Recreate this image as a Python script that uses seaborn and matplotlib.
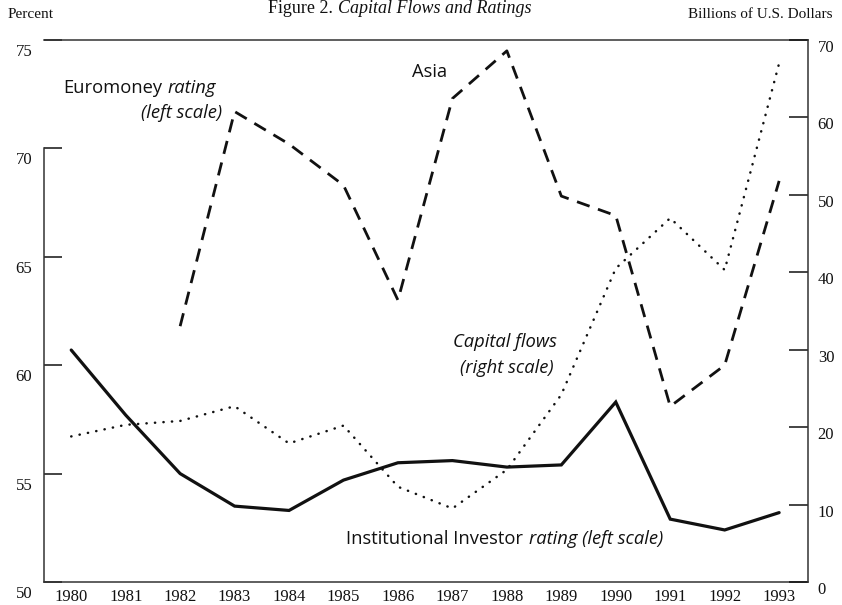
import numpy as np
import pandas as pd
import matplotlib
matplotlib.use("Agg")
import matplotlib.pyplot as plt
from matplotlib.transforms import ScaledTranslation
import seaborn as sns

# values
years = list(range(1980, 1994))
inst_investor = [60.7, 57.7, 55.0, 53.5, 53.3, 54.7, 55.5, 55.6, 55.3, 55.4,
                 58.3, 52.9, 52.4, 53.2]          # percent, left scale
capital_flows = [18.8, 20.3, 20.8, 22.7, 17.9, 20.2, 12.3, 9.5, 14.5, 24.2,
                 40.5, 47.0, 40.3, 67.0]          # billions USD, right scale
euro_years = list(range(1982, 1994))
euromoney = [61.8, 71.7, 70.2, 68.3, 63.0, 72.3, 74.5, 67.8, 66.9, 58.1,
             60.0, 68.5]                          # percent, left scale

left_ticks = [50, 55, 60, 65, 70, 75]
right_ticks = [0, 10, 20, 30, 40, 50, 60, 70]

df_ii = pd.DataFrame({"year": years, "value": inst_investor})
df_cf = pd.DataFrame({"year": years, "value": capital_flows})
df_em = pd.DataFrame({"year": euro_years, "value": euromoney})

sns.set_style("white")
plt.rcParams["font.family"] = ["Liberation Serif", "DejaVu Serif"]
ANNOT = ["Open Sans", "DejaVu Sans"]
INK = "#111111"
FS = 13.2

W, H = 842, 605
fig = plt.figure(figsize=(W / 100, H / 100), dpi=100)
x0, x1, ytop, ybot = 44, 808, 40, 582
ax = fig.add_axes([x0 / W, 1 - ybot / H, (x1 - x0) / W, (ybot - ytop) / H])
ax2 = ax.twinx()

sns.lineplot(data=df_ii, x="year", y="value", ax=ax, color=INK, linewidth=2.3,
             solid_joinstyle="miter")
sns.lineplot(data=df_em, x="year", y="value", ax=ax, color=INK, linewidth=2.0,
             linestyle=(0, (4.8, 3.2)))
sns.lineplot(data=df_cf, x="year", y="value", ax=ax2, color=INK, linewidth=1.8,
             linestyle=(0, (0.1, 3.3)), dash_capstyle="round")

ax.set_xlim(1979.5, 1993.53)
ax.set_ylim(50, 75)
ax2.set_ylim(0, 70)
ax.set_xlabel("")
ax.set_ylabel("")
ax2.set_ylabel("")

ax.set_xticks(years)
ax.set_xticklabels([str(y) for y in years])
ax.set_xticks([y + 0.5 for y in years[:-1]], minor=True)
ax.tick_params(axis="x", which="major", length=0, pad=5, labelsize=12, colors=INK)
ax.tick_params(axis="x", which="minor", direction="in", length=8.5, width=1.1, color=INK)

ax.set_yticks(left_ticks)
ax.tick_params(axis="y", which="major", direction="in", length=13, width=1.1,
               pad=8.5, labelsize=12, colors=INK)
ax2.set_yticks(right_ticks)
ax2.tick_params(axis="y", which="major", direction="in", length=13.5, width=1.1,
                pad=7, labelsize=12, colors=INK)

# labels in the scan sit a little below their ticks
for lbl in ax.get_yticklabels():
    lbl.set_transform(lbl.get_transform() + ScaledTranslation(0, -0.10, fig.dpi_scale_trans))
for lbl in ax2.get_yticklabels():
    lbl.set_transform(lbl.get_transform() + ScaledTranslation(0, -0.06, fig.dpi_scale_trans))

for a in (ax, ax2):
    for s in a.spines.values():
        s.set_linewidth(1.1)
        s.set_color("#333333")
ax.spines["right"].set_visible(False)
ax.spines["left"].set_bounds(50, 70)
for s in ("left", "top", "bottom"):
    ax2.spines[s].set_visible(False)


def px(xp, yp):
    return (xp - x0) / (x1 - x0), (ybot - yp) / (ybot - ytop)


def note(xp, yp, s, ha="left", style="normal", size=FS):
    fx, fy = px(xp, yp)
    return ax.text(fx, fy, s, transform=ax.transAxes, ha=ha, va="center", style=style,
                   fontsize=size, family=ANNOT, color=INK)


def tail(prev, s, size=FS):
    # italic continuation right after a regular text
    return ax.annotate(s, xy=(1, 0.5), xycoords=prev, xytext=(4, 0),
                       textcoords="offset points", ha="left", va="center",
                       style="italic", fontsize=size, family=ANNOT, color=INK)


t = note(63, 88, "Euromoney")
tail(t, "rating")
note(222, 113, "(left scale)", ha="right", style="italic")
note(430, 72, "Asia", ha="center")
note(505, 342, "Capital flows", ha="center", style="italic")
note(507, 368, "(right scale)", ha="center", style="italic")
t = note(346, 539, "Institutional Investor")
tail(t, "rating (left scale)")

fig.text(8 / W, 1 - 15 / H, "Percent", ha="left", va="center", fontsize=11, color=INK)
fig.text(832 / W, 1 - 15 / H, "Billions of U.S. Dollars", ha="right", va="center",
         fontsize=11, color=INK)
fig.text(333 / W, 1.0, "Figure 2.", ha="right", va="top", fontsize=13, color=INK)
fig.text(338 / W, 1.0, "Capital Flows and Ratings", ha="left", va="top",
         fontsize=13, style="italic", color=INK)

fig.savefig("out.png", dpi=100)
